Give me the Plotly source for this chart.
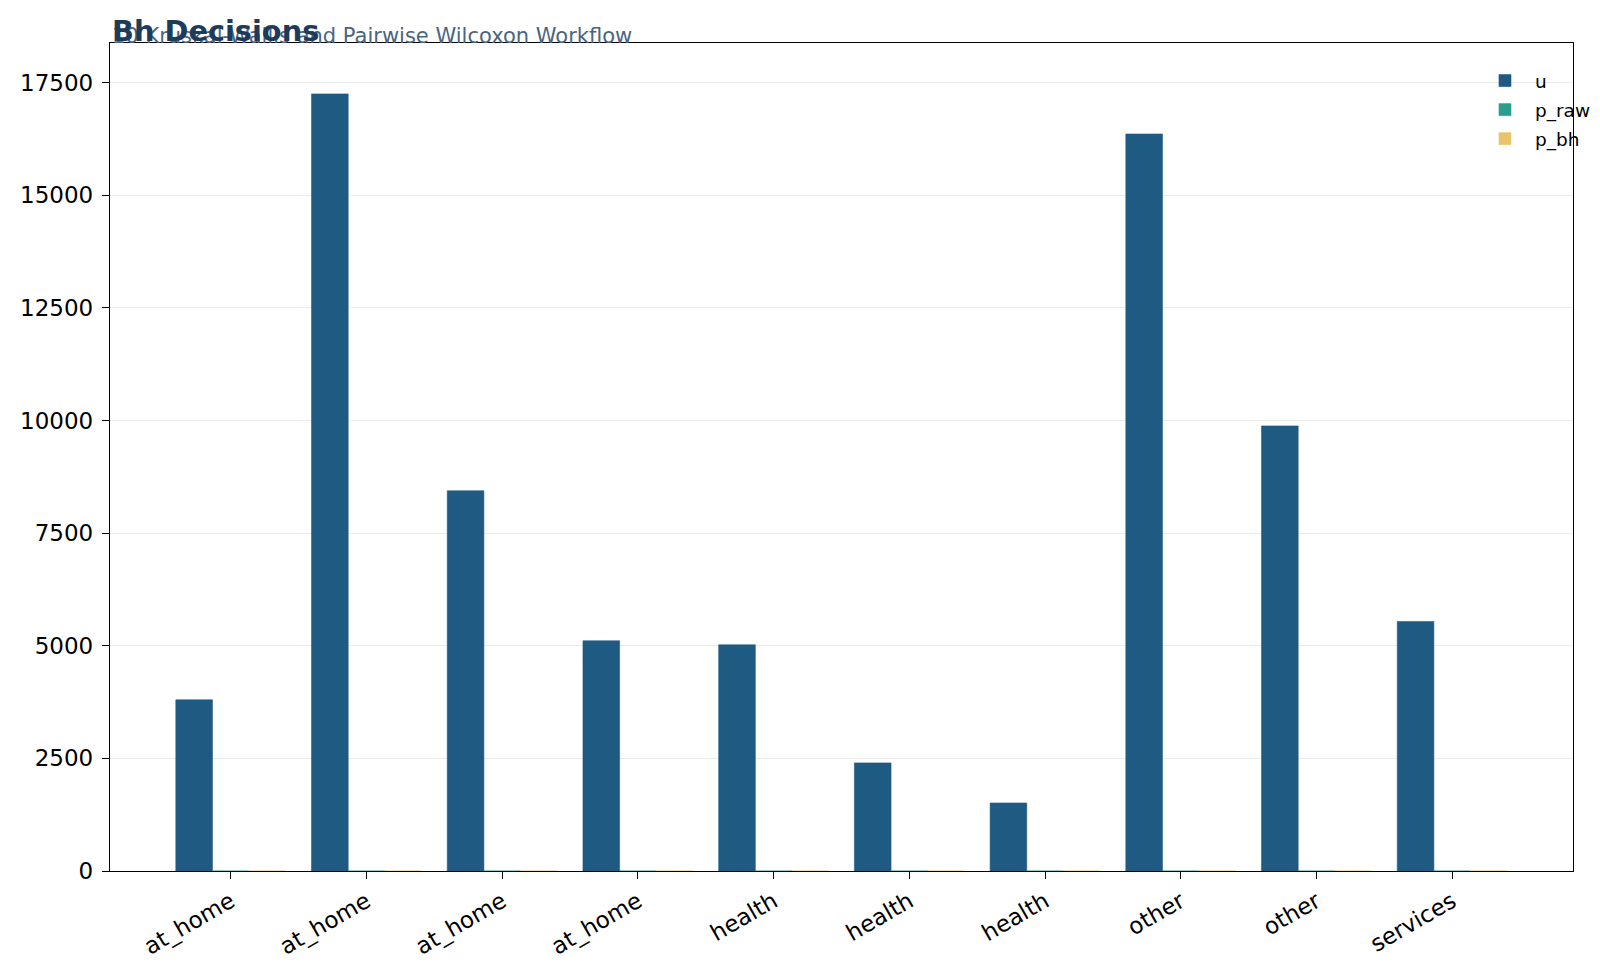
import plotly.graph_objects as go

categories = ['at_home', 'at_home', 'at_home', 'at_home', 'health',
              'health', 'health', 'other', 'other', 'services']
u_vals = [3800, 17250, 8440, 5110, 5020, 2400, 1510, 16360, 9880, 5540]
p_raw = [0.001, 0.0, 0.0, 0.002, 0.003, 0.01, 0.02, 0.0, 0.0, 0.004]
p_bh = [0.002, 0.0, 0.0, 0.004, 0.005, 0.02, 0.03, 0.0, 0.0, 0.006]

series = [('u', u_vals, '#1f5a82'), ('p_raw', p_raw, '#2a9d8f'), ('p_bh', p_bh, '#e9c46a')]
w = 0.27
pos = list(range(len(categories)))

fig = go.Figure()
for i, (name, vals, col) in enumerate(series):
    fig.add_trace(go.Bar(
        x=[p + (i - 1) * w for p in pos], y=vals, width=w, name=name,
        legendgroup=name,
        marker=dict(color=col, line=dict(width=0.6, color=col)),
    ))

fig.update_layout(
    width=1600, height=978,
    plot_bgcolor='white', paper_bgcolor='white',
    font=dict(family='DejaVu Sans', size=23, color='black'),
    margin=dict(l=102, r=22, t=34.7, b=114.7),
    barmode='overlay',
    showlegend=True,
    legend=dict(x=0.933, y=0.977, xanchor='left', yanchor='top',
                font=dict(size=18.5), bgcolor='rgba(255,255,255,0)',
                itemwidth=50, traceorder='grouped', tracegroupgap=2),
    annotations=[
        dict(text='10 Kruskal-Wallis and Pairwise Wilcoxon Workflow', x=0, y=1.0,
             xref='paper', yref='paper', xanchor='left', yanchor='bottom', yshift=-6.8,
             showarrow=False, font=dict(size=21, color='#4a6580')),
        dict(text='<b>Bh Decisions</b>', x=0, y=1.0,
             xref='paper', yref='paper', xanchor='left', yanchor='bottom', yshift=-7,
             showarrow=False, font=dict(size=28.8, color='#1f3b5a')),
    ],
)
fig.update_xaxes(
    range=[-0.89, 9.89], tickmode='array', tickvals=pos, ticktext=categories,
    tickangle=-30, ticks='outside', ticklen=7, tickcolor='black',
    showline=True, linecolor='black', linewidth=1.4, mirror=True, showgrid=False,
)
fig.update_yaxes(
    range=[0, 18380], tickmode='array', tickvals=[0, 2500, 5000, 7500, 10000, 12500, 15000, 17500],
    tickformat='d', ticks='outside', ticklen=7, tickcolor='black', ticklabelstandoff=4,
    showline=True, linecolor='black', linewidth=1.4, mirror=True,
    showgrid=True, gridcolor='#ebebeb', gridwidth=1, zeroline=False,
)

fig.write_html('out.html')
